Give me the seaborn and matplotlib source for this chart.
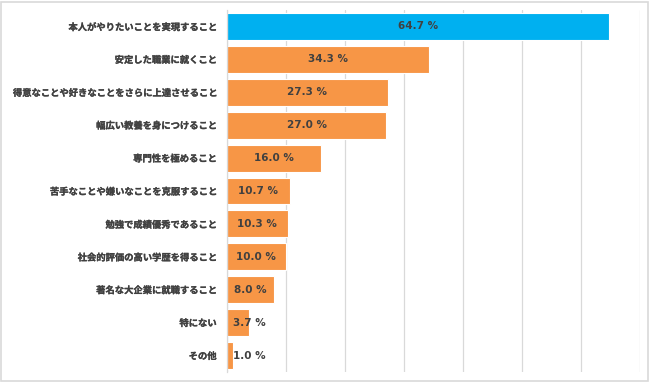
import matplotlib
matplotlib.use("Agg")
import matplotlib.pyplot as plt
import matplotlib.patheffects as pe
import seaborn as sns
import pandas as pd
from matplotlib.patches import Rectangle

categories = [
    "本人がやりたいことを実現すること",
    "安定した職業に就くこと",
    "得意なことや好きなことをさらに上達させること",
    "幅広い教養を身につけること",
    "専門性を極めること",
    "苦手なことや嫌いなことを克服すること",
    "勉強で成績優秀であること",
    "社会的評価の高い学歴を得ること",
    "著名な大企業に就職すること",
    "特にない",
    "その他",
]
values = [64.7, 34.3, 27.3, 27.0, 16.0, 10.7, 10.3, 10.0, 8.0, 3.7, 1.0]
groups = ["top"] + ["rest"] * (len(categories) - 1)

df = pd.DataFrame({"cat": categories, "val": values, "grp": groups})

sns.set_theme(style="white")
plt.rcParams["font.family"] = ["Noto Sans CJK JP", "DejaVu Sans"]

fig = plt.figure(figsize=(6.5, 3.82), dpi=100)
ax = fig.add_axes([0.349, 0.026, 0.636, 0.948])

sns.barplot(data=df, x="val", y="cat", hue="grp",
            palette={"top": "#00B0F0", "rest": "#F79646"},
            saturation=1, dodge=False, legend=False, width=0.82,
            edgecolor="white", linewidth=0.8, ax=ax)

ax.set_xlim(0, 70)
ax.set_xticks(range(0, 71, 10))
ax.xaxis.grid(True, color="#D9D9D9", linewidth=0.9)
ax.set_axisbelow(True)
ax.tick_params(axis="x", length=0, labelbottom=False)
ax.tick_params(axis="y", length=0, pad=7.5, labelsize=6.7, labelcolor="#404040")
for lab in ax.get_yticklabels():
    lab.set_fontweight("bold")
    lab.set_path_effects([pe.withStroke(linewidth=0.2, foreground="#404040")])
ax.set_xlabel("")
ax.set_ylabel("")
for s in ["top", "right", "bottom"]:
    ax.spines[s].set_visible(False)
ax.spines["left"].set_color("#D9D9D9")
ax.spines["left"].set_linewidth(0.9)

for i, v in enumerate(values):
    ax.text(max(v / 2, 3.75), i, f"{v:.1f} %", ha="center", va="center",
            fontsize=7.5, fontweight="bold", color="#404040",
            family="DejaVu Sans")

fig.patches.append(Rectangle((0.002, 0.003), 0.995, 0.993, transform=fig.transFigure,
                             fill=False, edgecolor="#D9D9D9", linewidth=1.2))

fig.savefig("out.png", dpi=100)
